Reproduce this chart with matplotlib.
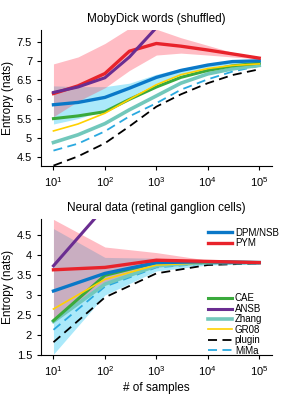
import matplotlib
matplotlib.use('Agg')
import matplotlib.pyplot as plt
import numpy as np

plt.rcParams['font.family'] = ['Liberation Sans', 'DejaVu Sans']

# ---- top panel: MobyDick words (shuffled)
n_top = [10, 30, 100, 300, 1000, 3000, 1e4, 3e4, 1e5]
top_dpm = [5.86, 5.92, 6.05, 6.29, 6.57, 6.75, 6.89, 6.98, 7.00]
top_pym = [6.15, 6.35, 6.67, 7.25, 7.45, 7.38, 7.28, 7.18, 7.07]
top_ansb = [6.18, 6.32, 6.56, 7.1, 7.86]
top_cae = [5.50, 5.57, 5.68, 6.00, 6.32, 6.57, 6.75, 6.87, 6.94]
top_zhang = [4.88, 5.08, 5.37, 5.73, 6.09, 6.42, 6.66, 6.79, 6.88]
top_gr08 = [5.18, 5.36, 5.64, 6.00, 6.38, 6.64, 6.80, 6.88, 6.92]
top_plugin = [4.28, 4.52, 4.86, 5.30, 5.81, 6.13, 6.42, 6.63, 6.78]
top_mima = [4.67, 4.85, 5.17, 5.56, 5.90, 6.25, 6.52, 6.72, 6.87]
top_pym_hi = [6.92, 7.10, 7.45, 7.85, 7.82, 7.60, 7.40, 7.22, 7.10]
top_pym_lo = [5.55, 5.95, 6.30, 6.75, 7.15, 7.20, 7.15, 7.10, 7.05]
top_dpm_hi = [6.35, 6.33, 6.33, 6.42, 6.65, 6.80, 6.93, 6.98, 7.00]
top_dpm_lo = [5.36, 5.50, 5.72, 6.05, 6.42, 6.64, 6.83, 6.92, 6.95]

# ---- bottom panel: neural data
n_bot = [10, 100, 1000, 1e4, 1e5]
bot_dpm = [3.10, 3.54, 3.81, 3.83, 3.81]
bot_pym = [3.63, 3.69, 3.87, 3.84, 3.81]
bot_ansb = [3.73, 5.20]
bot_cae = [2.36, 3.49, 3.81, 3.83, 3.81]
bot_zhang = [2.34, 3.27, 3.73, 3.81, 3.81]
bot_gr08 = [2.65, 3.39, 3.75, 3.81, 3.83]
bot_plugin = [1.82, 2.94, 3.54, 3.75, 3.79]
bot_mima = [2.13, 3.21, 3.69, 3.79, 3.79]
bot_pym_hi = [4.89, 4.20, 4.06, 3.87, 3.83]
bot_pym_lo = [2.40, 3.30, 3.70, 3.80, 3.80]
bot_dpm_hi = [4.66, 3.94, 3.92, 3.85, 3.82]
bot_dpm_lo = [1.52, 3.00, 3.60, 3.75, 3.78]

c_dpm = '#0a78c8'
c_pym = '#e8232b'
c_ansb = '#6a2d91'
c_cae = '#3aaa3c'
c_zhang = '#72c8bb'
c_gr08 = '#ffd100'
c_mima = '#2aa9e0'

fig = plt.figure(figsize=(3, 4), dpi=100)
ax1 = fig.add_axes([0.137, 0.585, 0.77, 0.34])
ax2 = fig.add_axes([0.137, 0.1125, 0.77, 0.34])


def draw(ax, n, d):
    # credible bands: light blue underneath, pink on top (gives mauve overlap)
    ax.fill_between(n, d['dpm_lo'], d['dpm_hi'], color='#00bdf0', alpha=0.33, lw=0)
    ax.fill_between(n, d['pym_lo'], d['pym_hi'], color='#ff4a60', alpha=0.37, lw=0)
    ax.plot(n, d['plugin'], color='k', lw=1.3, ls=(0, (5, 3)), label='plugin')
    ax.plot(n, d['mima'], color=c_mima, lw=1.3, ls=(0, (5, 3)), label='MiMa')
    ax.plot(n, d['zhang'], color=c_zhang, lw=2.6, label='Zhang')
    ax.plot(n, d['cae'], color=c_cae, lw=2.2, label='CAE')
    ax.plot(n, d['gr08'], color=c_gr08, lw=1.2, label='GR08')
    ax.plot(n, d['dpm'], color=c_dpm, lw=2.4, label='DPM/NSB')
    ax.plot(n, d['pym'], color=c_pym, lw=2.4, label='PYM')
    ax.plot(n[:len(d['ansb'])], d['ansb'], color=c_ansb, lw=2.2, label='ANSB')
    ax.set_xscale('log')
    ax.set_xlim(5.75, 1.78e5)
    ax.set_xticks([10, 100, 1000, 1e4, 1e5])
    ax.minorticks_off()
    ax.spines['top'].set_visible(False)
    ax.spines['right'].set_visible(False)
    ax.tick_params(direction='out', length=3, width=0.8, labelsize=8)
    ax.set_ylabel('Entropy (nats)', fontsize=8.5, labelpad=2)
    ax.yaxis.set_major_formatter(matplotlib.ticker.FormatStrFormatter('%g'))


draw(ax1, n_top, dict(dpm=top_dpm, pym=top_pym, ansb=top_ansb, cae=top_cae,
                      zhang=top_zhang, gr08=top_gr08, plugin=top_plugin,
                      mima=top_mima, pym_hi=top_pym_hi, pym_lo=top_pym_lo,
                      dpm_hi=top_dpm_hi, dpm_lo=top_dpm_lo))
ax1.set_ylim(4.27, 7.8)
ax1.set_yticks([4.5, 5, 5.5, 6, 6.5, 7, 7.5])
ax1.set_title('MobyDick words (shuffled)', fontsize=8.5, pad=6)

draw(ax2, n_bot, dict(dpm=bot_dpm, pym=bot_pym, ansb=bot_ansb, cae=bot_cae,
                      zhang=bot_zhang, gr08=bot_gr08, plugin=bot_plugin,
                      mima=bot_mima, pym_hi=bot_pym_hi, pym_lo=bot_pym_lo,
                      dpm_hi=bot_dpm_hi, dpm_lo=bot_dpm_lo))
ax2.set_ylim(1.5, 4.9)
ax2.set_yticks([1.5, 2, 2.5, 3, 3.5, 4, 4.5])
ax2.set_title('Neural data (retinal ganglion cells)', fontsize=8.5, pad=6)
ax2.set_xlabel('# of samples', fontsize=8.5, labelpad=3)

# two legends, handles left-aligned at the same x
h, l = ax2.get_legend_handles_labels()
hd = dict(zip(l, h))
leg_kw = dict(frameon=False, fontsize=7, handlelength=2.5, handletextpad=0.25,
              labelspacing=0.05, borderaxespad=0)
leg1 = ax2.legend([hd['DPM/NSB'], hd['PYM']], ['DPM/NSB', 'PYM'],
                  loc='upper left', bbox_to_anchor=(0.706, 0.965), **leg_kw)
ax2.add_artist(leg1)
names2 = ['CAE', 'ANSB', 'Zhang', 'GR08', 'plugin', 'MiMa']
ax2.legend([hd[k] for k in names2], names2, loc='lower left',
           bbox_to_anchor=(0.706, -0.035), **leg_kw)

fig.savefig('out.png', dpi=100)
